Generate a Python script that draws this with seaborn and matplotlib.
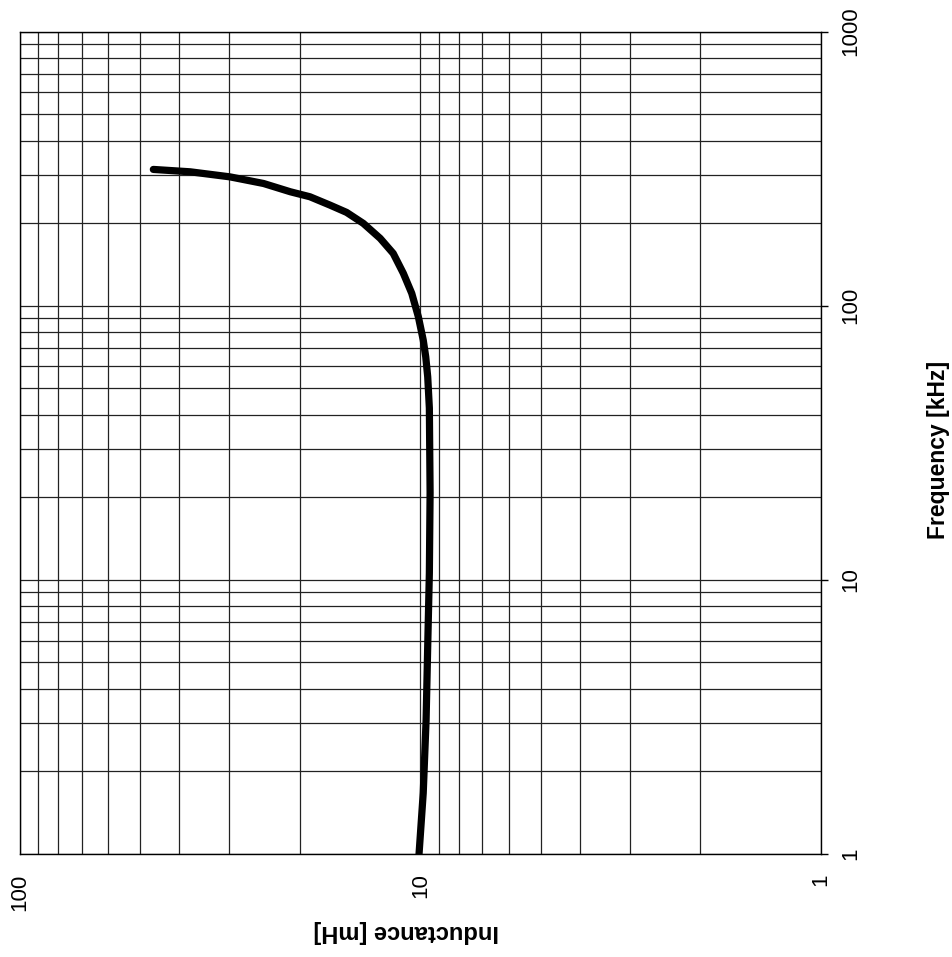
import matplotlib
matplotlib.use("Agg")
import matplotlib.pyplot as plt
import seaborn as sns
import pandas as pd

# ---- data ----
frequency_khz = [1, 1.67, 3.08, 5.74, 10.6, 20.8, 42.3, 55, 65.1, 74.9, 91.1, 110.9, 131.2,
                 155.1, 176, 199.6, 218.9, 232.7, 249.6, 260.3, 279, 295, 307.8, 314]
inductance_mh = [10.07, 9.83, 9.67, 9.58, 9.49, 9.45, 9.49, 9.58, 9.69, 9.83, 10.11, 10.5, 11.02,
                 11.68, 12.59, 13.87, 15.27, 16.8, 18.85, 21.1, 24.6, 29.85, 37.5, 46.35]

ind_ticks = [100, 10, 1]
ind_ticklabels = ["100", "10", "1"]
freq_ticks = [1, 10, 100, 1000]
freq_ticklabels = ["1", "10", "100", "1000"]

x_label = "Inductance [mH]"
y_label = "Frequency [kHz]"

sns.set_style("white")
plt.rcParams["font.family"] = ["Liberation Sans", "DejaVu Sans"]
plt.rcParams["text.color"] = "black"
plt.rcParams["axes.labelcolor"] = "black"
plt.rcParams["xtick.color"] = "black"
plt.rcParams["ytick.color"] = "black"

W, H = 952, 957
fig = plt.figure(figsize=(W / 100, H / 100), dpi=100)
left, right, top, bottom = 19.5, 821, 31.5, 854
ax = fig.add_axes([left / W, 1 - bottom / H, (right - left) / W, (bottom - top) / H])

df = pd.DataFrame({"inductance": inductance_mh, "frequency": frequency_khz})
sns.lineplot(data=df, x="inductance", y="frequency", sort=False, estimator=None,
             color="black", linewidth=5.2, ax=ax, solid_capstyle="round",
             solid_joinstyle="round")

ax.set_xscale("log")
ax.set_yscale("log")
ax.set_xlim(100, 1)
ax.set_ylim(1, 1000)

ax.grid(True, which="both", color="#222222", linewidth=0.9)
ax.set_axisbelow(True)

ax.yaxis.tick_right()
ax.set_xticks(ind_ticks, labels=ind_ticklabels)
ax.set_yticks(freq_ticks, labels=freq_ticklabels)
ax.tick_params(which="major", direction="out", length=5, width=1, color="black",
               labelsize=16, pad=9, labelcolor="black")
ax.tick_params(axis="y", which="major", right=True, left=False, labelright=True, labelleft=False)
ax.tick_params(which="minor", length=0)
plt.setp(ax.get_xticklabels(), rotation=90, ha="center", va="top")
plt.setp(ax.get_yticklabels(), rotation=90, ha="left", va="center")

for s in ax.spines.values():
    s.set_color("black")
    s.set_linewidth(1.0)

ax.set_xlabel(x_label, fontsize=17, fontweight="bold", rotation=180, color="black")
ax.xaxis.label.set_ha("center")
ax.xaxis.label.set_va("center")
ax.xaxis.set_label_coords((406 - left) / (right - left), (bottom - 931) / (bottom - top))

ax.yaxis.set_label_position("right")
ax.set_ylabel(y_label, fontsize=16.5, fontweight="bold", rotation=90, color="black")
ax.yaxis.label.set_rotation_mode("default")
ax.yaxis.label.set_ha("center")
ax.yaxis.label.set_va("center")
ax.yaxis.set_label_coords((939 - left) / (right - left), (bottom - 450) / (bottom - top))

fig.savefig("out.png", dpi=100)
